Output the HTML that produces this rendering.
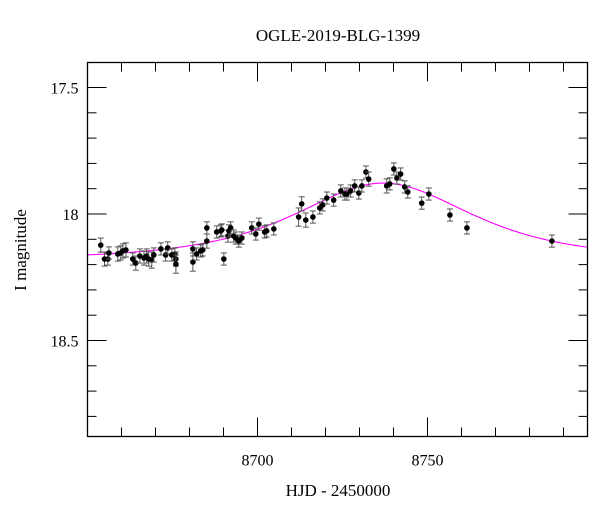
<!DOCTYPE html>
<html><head><meta charset="utf-8"><style>
html,body{margin:0;padding:0;background:#fff;}
svg{display:block;font-family:"Liberation Serif",serif;}
</style></head><body>
<svg id="chart" width="600" height="512" viewBox="0 0 600 512" xmlns="http://www.w3.org/2000/svg">
<text x="338" y="41" font-size="17" text-anchor="middle">OGLE-2019-BLG-1399</text>
<text x="0" y="0" font-size="17" text-anchor="middle" transform="translate(26,250) rotate(-90)">I magnitude</text>
<text x="338" y="496" font-size="17" text-anchor="middle">HJD - 2450000</text>
<g id="ticks"></g>
<g id="curve"></g>
<g id="pts"></g>
<rect x="87.5" y="62.5" width="500" height="374" fill="none" stroke="#000" stroke-width="1.3"/>
</svg>
<script>
const times = [8653.9,8655.0,8656.0,8656.3,8658.9,8659.8,8660.4,8661.3,8663.3,8664.2,8665.4,8666.6,8667.4,8668.0,8668.9,8669.5,8671.6,8673.0,8673.6,8674.8,8675.7,8676.0,8676.0,8681.0,8681.0,8682.1,8683.3,8683.9,8685.1,8685.1,8688.0,8689.2,8689.5,8690.1,8691.3,8691.6,8692.1,8693.0,8693.6,8694.5,8695.4,8698.3,8699.5,8700.4,8702.1,8702.7,8704.8,8712.1,8713.0,8714.2,8716.3,8718.3,8719.2,8720.4,8722.4,8724.5,8725.7,8726.3,8727.4,8728.6,8729.8,8730.7,8731.9,8732.7,8738.0,8738.9,8740.1,8741.0,8742.1,8743.3,8744.2,8748.3,8750.4,8756.6,8761.6,8786.6];
const mags = [18.123,18.178,18.178,18.154,18.158,18.154,18.146,18.142,18.178,18.194,18.166,18.174,18.166,18.178,18.182,18.162,18.138,18.162,18.134,18.162,18.158,18.178,18.198,18.190,18.138,18.158,18.146,18.142,18.107,18.055,18.071,18.067,18.063,18.178,18.087,18.067,18.055,18.087,18.095,18.107,18.095,18.055,18.079,18.040,18.071,18.067,18.059,18.012,17.960,18.024,18.012,17.976,17.964,17.937,17.945,17.909,17.921,17.921,17.909,17.889,17.917,17.889,17.834,17.862,17.889,17.881,17.822,17.858,17.842,17.893,17.913,17.957,17.921,18.004,18.055,18.107];
const errs = [0.028,0.028,0.024,0.024,0.028,0.028,0.028,0.028,0.024,0.028,0.028,0.028,0.028,0.028,0.032,0.028,0.024,0.024,0.024,0.024,0.024,0.028,0.036,0.036,0.028,0.024,0.024,0.024,0.028,0.024,0.024,0.024,0.024,0.024,0.024,0.024,0.024,0.024,0.024,0.024,0.024,0.024,0.024,0.024,0.024,0.024,0.024,0.036,0.028,0.028,0.024,0.024,0.024,0.024,0.024,0.024,0.024,0.024,0.024,0.024,0.024,0.024,0.024,0.028,0.028,0.024,0.024,0.024,0.024,0.024,0.024,0.024,0.024,0.024,0.024,0.024];
const xTickLabels = [8700, 8750];
const yTickLabels = ["17.5", "18", "18.5"];
const model = {t0: 8737, u0: 1.03, tE: 30.9, base: 18.18};

const X0=87.5, X1=587.5, Y0=62.5, Y1=436.5;
const tMin=8650, tMax=8650+500/3.4;
const mMin=17.5-25/253, mMax=17.5-25/253+374/253;
const xs = t => X0 + (t - tMin) / (tMax - tMin) * (X1 - X0);
const ys = m => Y0 + (m - mMin) / (mMax - mMin) * (Y1 - Y0);
const NS = "http://www.w3.org/2000/svg";
function mk(tag, attrs, parent){const e=document.createElementNS(NS,tag);for(const k in attrs)e.setAttribute(k,attrs[k]);parent.appendChild(e);return e;}

const tg = document.getElementById('ticks');
for (let t = 8660; t < tMax; t += 10) {
  const major = (t % 50 === 0);
  const L = major ? 19 : 9, x = xs(t);
  const a = mk('line',{x1:x,y1:Y1,x2:x,y2:Y1-L,stroke:'#000','stroke-width':1},tg);
  
  
  const b = mk('line',{x1:x,y1:Y0,x2:x,y2:Y0+L,stroke:'#000','stroke-width':1},tg);
  
  
}
xTickLabels.forEach(v => {
  const tx = mk('text',{x:xs(v),y:Y1+29,'font-size':16,'text-anchor':'middle'},tg);
  tx.textContent = v;
  
  
});
for (let i = 5; i <= 18; i++) {
  const m = 17 + i * 0.1;
  if (m > mMax) break;
  const major = (i % 5 === 0);
  const L = major ? 19 : 9, y = ys(m);
  const a = mk('line',{x1:X0,y1:y,x2:X0+L,y2:y,stroke:'#000','stroke-width':1},tg);
  
  
  const b = mk('line',{x1:X1,y1:y,x2:X1-L,y2:y,stroke:'#000','stroke-width':1},tg);
  
  
}
yTickLabels.forEach(s => {
  const tx = mk('text',{x:X0-9,y:ys(parseFloat(s))+6,'font-size':16,'text-anchor':'end'},tg);
  tx.textContent = s;
  
  
});

function modelMag(t){
  const u = Math.sqrt(model.u0*model.u0 + Math.pow((t-model.t0)/model.tE,2));
  const A = (u*u+2)/(u*Math.sqrt(u*u+4));
  return model.base - 2.5*Math.log10(A);
}
let d = '';
for (let t = tMin; t <= tMax; t += 0.5) d += (d ? 'L' : 'M') + xs(t).toFixed(2) + ',' + ys(modelMag(t)).toFixed(2);
const cp = mk('path',{d:d,fill:'none',stroke:'#ff00ff','stroke-width':1.1},document.getElementById('curve'));



const pg = document.getElementById('pts');
times.forEach((t,i) => {
  const x = xs(t), y = ys(mags[i]), yt = ys(mags[i]-errs[i]), yb = ys(mags[i]+errs[i]);
  const g = mk('g',{},pg);
  
  
  mk('line',{x1:x,y1:yt,x2:x,y2:yb,stroke:'#555','stroke-width':1},g);
  mk('line',{x1:x-3,y1:yt,x2:x+3,y2:yt,stroke:'#555','stroke-width':1},g);
  mk('line',{x1:x-3,y1:yb,x2:x+3,y2:yb,stroke:'#555','stroke-width':1},g);
  mk('circle',{cx:x,cy:y,r:2.8,fill:'#000'},g);
});
</script>
</body></html>
